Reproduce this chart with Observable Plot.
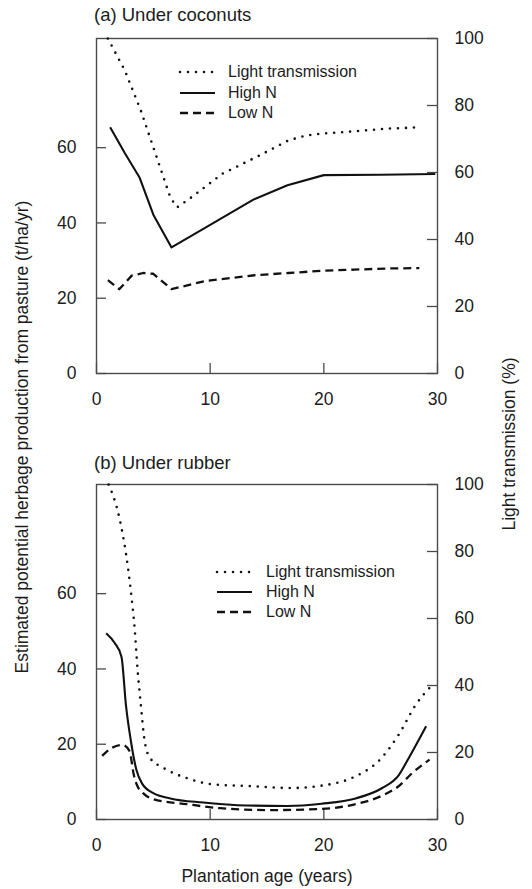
<!DOCTYPE html>
<html>
<head>
<meta charset="utf-8">
<script src="https://cdn.jsdelivr.net/npm/d3@7"></script>
<script src="https://cdn.jsdelivr.net/npm/@observablehq/plot@0.6"></script>
<style>
  body { margin: 0; background: #fff; }
  #wrap { position: relative; width: 532px; height: 889px; overflow: hidden;
          font-family: "Liberation Sans", Arial, Helvetica, sans-serif; color: #1c1c1c; }
  .abs { position: absolute; white-space: nowrap; line-height: 1; }
  .panelTitle { font-size: 18.5px; transform: translateY(-50%); }
  .axisTitle { font-size: 17.5px; }
  .legend { font-size: 16px; }
  .legend .row { position: absolute; display: flex; align-items: center; transform: translateY(-50%); }
  .legend svg { display: block; }
</style>
</head>
<body>
<div id="wrap"></div>
<script>
// ---------- data ----------
// (a) Under coconuts
const yearsLightA = [1.0, 2.5, 3.9, 5.3, 6.5, 7.1, 8.2, 11.1, 14.0, 16.9, 18.4, 19.8, 22.7, 25.6, 28.6];
const lightA      = [100, 90.4, 78.5, 64.5, 52.5, 49.6, 52.2, 59.7, 64.5, 69.6, 71.0, 71.6, 72.3, 73.1, 73.5];
const yearsHighA  = [1.2, 2.5, 3.8, 5.0, 6.6, 10.0, 13.8, 16.8, 20.0, 25.0, 29.8];
const highA       = [65.4, 58.5, 52.0, 42.2, 33.5, 39.5, 46.2, 50.0, 52.7, 52.8, 53.0];
const yearsLowA   = [1.0, 2.0, 3.1, 4.1, 5.0, 6.6, 9.6, 13.9, 16.9, 19.9, 22.7, 25.6, 28.4];
const lowA        = [24.8, 22.4, 26.0, 26.7, 26.5, 22.4, 24.6, 26.1, 26.7, 27.3, 27.6, 27.9, 28.0];

// (b) Under rubber
const yearsLightB = [1.07, 2.0, 2.6, 3.05, 3.35, 3.6, 3.9, 4.2, 4.7, 5.9, 7.9, 10.0, 13.9, 17.1, 19.8, 22.8, 24.8, 26.6, 28.1, 29.5];
const lightB      = [100, 90.2, 79.2, 67.3, 57.3, 45.3, 34.3, 24.3, 18.4, 15.4, 12.4, 10.6, 9.9, 9.4, 10.1, 12.9, 17.4, 25.4, 34.3, 40.0];
const yearsHighB  = [0.85, 1.6, 2.2, 2.6, 3.05, 3.5, 4.0, 5.0, 6.5, 9.4, 12.4, 16.8, 19.8, 22.8, 25.1, 26.6, 27.5, 29.0];
const highB       = [49.5, 46.9, 43.2, 30.1, 20.4, 13.3, 9.6, 7.0, 5.6, 4.5, 3.8, 3.6, 4.2, 5.6, 8.3, 11.8, 16.5, 24.8];
const yearsLowB   = [0.5, 1.4, 2.3, 2.9, 3.3, 3.6, 4.1, 5.0, 7.9, 10.9, 15.3, 19.8, 22.8, 25.1, 26.6, 27.8, 29.3];
const lowB        = [16.9, 19.1, 19.8, 18.2, 11.6, 8.9, 7.0, 5.4, 4.1, 3.0, 2.5, 2.8, 4.1, 6.3, 8.9, 12.4, 15.9];

// ticks and labels
const xTicks = [0, 10, 20, 30];
const leftTicks = [0, 20, 40, 60];
const rightTicks = [0, 20, 40, 60, 80, 100];
const leftMax = 89;    // herbage axis top (t/ha/yr)
const rightMax = 100;  // light transmission axis top (%)
const seriesNames = ["Light transmission", "High N", "Low N"];
const panelTitles = ["(a) Under coconuts", "(b) Under rubber"];
const xTitle = "Plantation age (years)";
const yLeftTitle = "Estimated potential herbage production from pasture (t/ha/yr)";
const yRightTitle = "Light transmission (%)";

// ---------- styles ----------
const INK = "#111";
const FRAME = "#4a4a4a";
const styles = {
  "Light transmission": {strokeDasharray: "0,8", strokeWidth: 2.6, strokeLinecap: "round"},
  "High N": {strokeDasharray: null, strokeWidth: 2.1, strokeLinecap: "butt"},
  "Low N": {strokeDasharray: "8,5", strokeWidth: 2.3, strokeLinecap: "butt"}
};

const W = 532, H = 413, MT = 38, MB = 40, ML = 96, MR = 95;
const frameW = W - ML - MR, frameH = H - MT - MB;
const TICK = 10;
const toLeft = v => v * leftMax / rightMax;

function zip(xs, ys, name, conv) {
  return xs.map((x, i) => ({year: x, value: conv ? conv(ys[i]) : ys[i], series: name}));
}

function panel(light, high, low, curve) {
  const lineMark = (data, name) => Plot.line(data, {
    x: "year", y: "value", stroke: INK, curve,
    strokeWidth: styles[name].strokeWidth,
    strokeDasharray: styles[name].strokeDasharray,
    strokeLinecap: styles[name].strokeLinecap,
    strokeLinejoin: "round"
  });
  return Plot.plot({
    width: W, height: H, marginTop: MT, marginBottom: MB, marginLeft: ML, marginRight: MR,
    style: {fontFamily: '"Liberation Sans", Arial, sans-serif', fontSize: "17.5px", color: "#1c1c1c", background: "white", overflow: "visible"},
    x: {domain: [0, 30]},
    y: {domain: [0, leftMax]},
    marks: [
      // inward ticks
      Plot.tickX(xTicks, {x: d => d, stroke: FRAME, strokeWidth: 1.3, insetTop: frameH - TICK}),
      Plot.tickY(leftTicks, {y: d => d, stroke: FRAME, strokeWidth: 1.3, insetRight: frameW - TICK}),
      Plot.tickY(rightTicks, {y: d => toLeft(d), stroke: FRAME, strokeWidth: 1.3, insetLeft: frameW - TICK}),
      // tick labels
      Plot.axisX(xTicks, {anchor: "bottom", tickSize: 0, tickPadding: 19, label: null}),
      Plot.axisY(leftTicks, {anchor: "left", tickSize: 0, tickPadding: 20, label: null}),
      Plot.axisY(rightTicks.map(toLeft), {anchor: "right", tickSize: 0, tickPadding: 17, label: null,
        tickFormat: d => String(Math.round(d * rightMax / leftMax))}),
      Plot.frame({stroke: FRAME, strokeWidth: 1.4}),
      lineMark(light, "Light transmission"),
      lineMark(high, "High N"),
      lineMark(low, "Low N")
    ]
  });
}

const wrap = document.getElementById("wrap");

function place(el, left, top) {
  el.style.position = "absolute";
  el.style.left = left + "px";
  el.style.top = top + "px";
  wrap.appendChild(el);
}

const plotA = panel(
  zip(yearsLightA, lightA, "Light transmission", toLeft),
  zip(yearsHighA, highA, "High N"),
  zip(yearsLowA, lowA, "Low N"),
  "linear"
);
place(plotA, 0, 0);

const plotB = panel(
  zip(yearsLightB, lightB, "Light transmission", toLeft),
  zip(yearsHighB, highB, "High N"),
  zip(yearsLowB, lowB, "Low N"),
  "monotone-x"
);
place(plotB, 0, 446);

// panel titles
function addText(txt, cls, left, top, extra) {
  const d = document.createElement("div");
  d.className = "abs " + cls;
  d.textContent = txt;
  d.style.left = left + "px";
  d.style.top = top + "px";
  if (extra) Object.assign(d.style, extra);
  wrap.appendChild(d);
  return d;
}
addText(panelTitles[0], "panelTitle", 94, 15);
addText(panelTitles[1], "panelTitle", 94, 463);

// axis titles
addText(xTitle, "axisTitle", 267, 877, {transform: "translate(-50%,-50%)"});
addText(yLeftTitle, "axisTitle", 23, 437, {transform: "translate(-50%,-50%) rotate(-90deg)"});
addText(yRightTitle, "axisTitle", 510, 444, {transform: "translate(-50%,-50%) rotate(-90deg)"});

// legends
function legend(x0, lineLen, textX, rowYs) {
  const box = document.createElement("div");
  box.className = "legend";
  seriesNames.forEach((name, i) => {
    const row = document.createElement("div");
    row.className = "row";
    row.style.left = x0 + "px";
    row.style.top = rowYs[i] + "px";
    const s = styles[name];
    const svg = d3.create("svg").attr("width", lineLen + 4).attr("height", 8);
    svg.append("line")
      .attr("x1", 2).attr("x2", lineLen + 2).attr("y1", 4).attr("y2", 4)
      .attr("stroke", INK).attr("stroke-width", s.strokeWidth)
      .attr("stroke-linecap", s.strokeLinecap)
      .attr("stroke-dasharray", s.strokeDasharray);
    row.appendChild(svg.node());
    const t = document.createElement("span");
    t.textContent = name;
    t.style.marginLeft = (textX - x0 - lineLen - 4) + "px";
    row.appendChild(t);
    box.appendChild(row);
  });
  wrap.appendChild(box);
}
legend(178, 35, 228, [72, 93, 113]);
legend(215, 35, 266, [572, 592, 612]);
</script>
</body>
</html>
